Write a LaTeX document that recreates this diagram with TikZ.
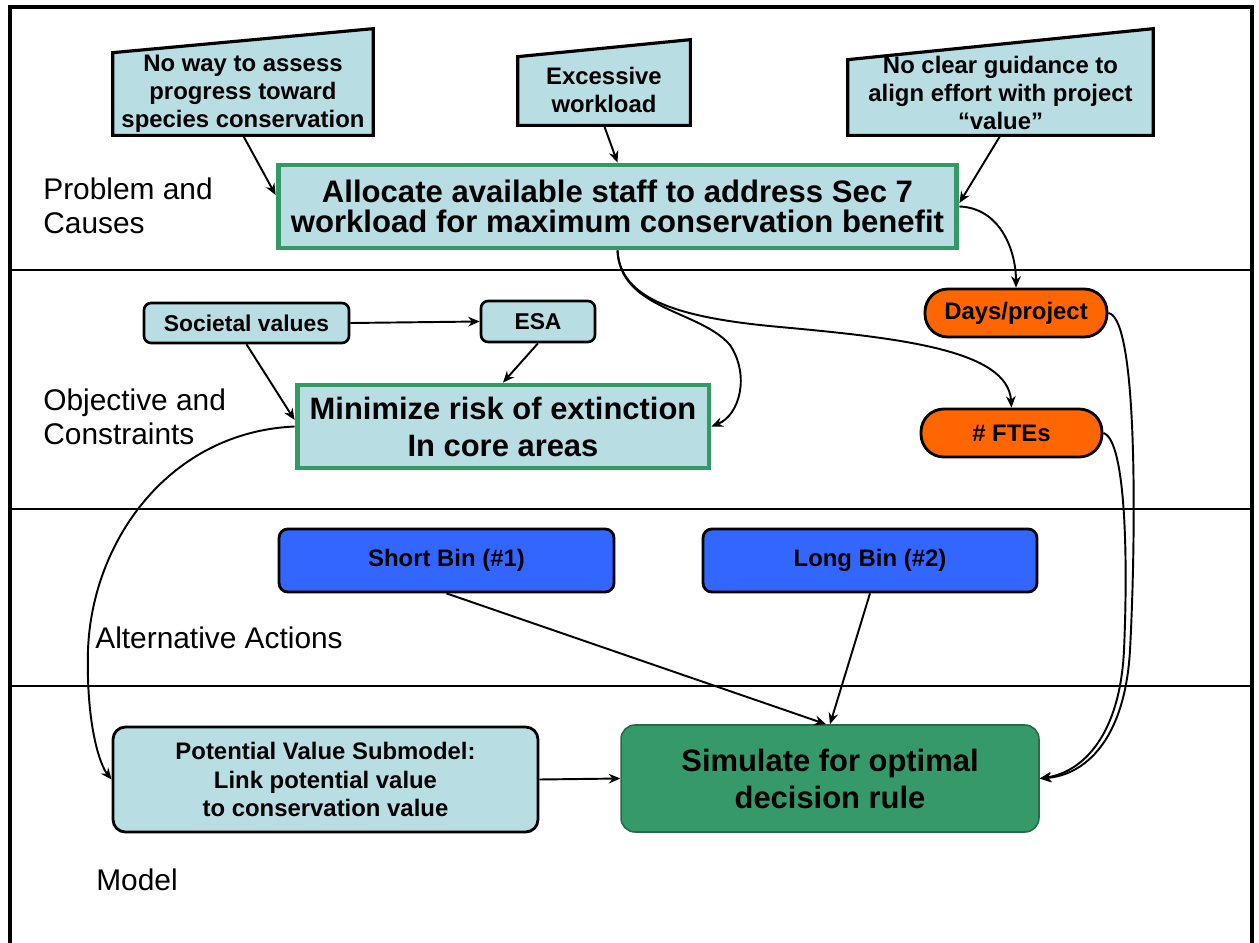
\documentclass[tikz,border=0pt]{standalone}
\usepackage{fontspec}
\setmainfont{Liberation Sans}
\usetikzlibrary{arrows.meta,backgrounds}
\definecolor{lb}{HTML}{B8DDE3}
\definecolor{gb}{HTML}{339966}
\definecolor{org}{HTML}{FF6600}
\definecolor{blu}{HTML}{3366FF}
\definecolor{simc}{HTML}{35996A}
\begin{document}
\begin{tikzpicture}[x=0.02cm,y=-0.02cm,
  arr/.style={draw, line width=1.1pt, -{Stealth[length=6.5pt,width=5.5pt]}},
  traptext/.style={inner sep=0pt, align=center, font=\fontsize{13.6}{15.9}\selectfont\bfseries},
  trapshape/.style={draw, fill=lb, line width=1.8pt, line join=miter},
  gbox/.style={draw=gb, fill=lb, line width=2.8pt, align=center, inner sep=0pt},
  rbox/.style={draw, fill=lb, rounded corners=4pt, line width=1.5pt, inner sep=0pt, align=center, font=\fontsize{13}{15.5}\selectfont\bfseries},
  pill/.style={draw, fill=org, rounded corners=13pt, line width=1.6pt, inner sep=0pt, font=\fontsize{13.6}{16}\selectfont\bfseries},
  binbox/.style={draw, fill=blu, rounded corners=5pt, line width=1.6pt, inner sep=0pt, font=\fontsize{13.6}{16}\selectfont\bfseries},
  seclabel/.style={anchor=west, inner sep=0pt, align=left, font=\fontsize{17}{19.3}\selectfont},
  divider/.style={line width=0.85pt}]
\useasboundingbox (0,0) rectangle (1259,943);

% frame and dividers
\draw[line width=2.8pt] (10,943) -- (10,7) -- (1252,7) -- (1252,943);
\draw[divider] (10,270) -- (1252,270);
\draw[divider] (10,509) -- (1252,509);
\draw[divider] (10,686) -- (1252,686);

% section labels
\node[seclabel] (l1) at (43,206) {Problem and\\Causes};
\node[seclabel] (l2) at (43,417) {Objective and\\Constraints};
\node[seclabel] (l3) at (95,638) {Alternative Actions};
\node[seclabel] (l4) at (96,880) {Model};

% causes (manual input shapes)
\node[traptext, minimum width=5.2cm, minimum height=1.66cm] (c1) at (243,93.5) {No way to assess\\progress toward\\species conservation};
\node[traptext, minimum width=3.44cm, minimum height=1.4cm] (c2) at (604,90) {Excessive\\workload};
\node[traptext, minimum width=6.1cm, minimum height=1.68cm] (c3) at (1000.5,93) {No clear guidance to\\align effort with project\\“value”};
\begin{scope}[on background layer]
\draw[trapshape] (c1.south west) -- (c1.south east) -- ([yshift=0.46cm]c1.north east) -- ([yshift=-0.02cm]c1.north west) -- cycle;
\draw[trapshape] (c2.south west) -- (c2.south east) -- ([yshift=0.30cm]c2.north east) -- ([yshift=-0.04cm]c2.north west) -- cycle;
\draw[trapshape] (c3.south west) -- (c3.south east) -- ([yshift=0.44cm]c3.north east) -- ([yshift=-0.18cm]c3.north west) -- cycle;
\end{scope}

% problem
\node[gbox, minimum width=13.58cm, minimum height=1.66cm, font=\fontsize{17.7}{19}\selectfont\bfseries] (alloc) at (617.5,206.5) {\raisebox{-3pt}{\shortstack{Allocate available staff to address Sec 7\\[1pt]workload for maximum conservation benefit}}};

% objective and constraints
\node[rbox, minimum width=4.1cm, minimum height=0.8cm] (soc) at (246.5,323) {Societal values};
\node[rbox, minimum width=2.28cm, minimum height=0.82cm] (esa) at (538,321.5) {ESA};
\node[gbox, minimum width=8.24cm, minimum height=1.66cm, font=\fontsize{17.6}{21}\selectfont\bfseries] (mini) at (503,426.5) {Minimize risk of extinction\\In core areas};
\node[pill, minimum width=3.64cm, minimum height=0.96cm] (days) at (1016,313) {Days/project};
\node[pill, minimum width=3.62cm, minimum height=0.96cm] (fte) at (1011.5,433) {\# FTEs};

% alternative actions
\node[binbox, minimum width=6.7cm, minimum height=1.26cm] (short) at (446.5,560.5) {Short Bin (\#1)};
\node[binbox, minimum width=6.68cm, minimum height=1.26cm] (long) at (870,560.5) {Long Bin (\#2)};

% model
\node[draw, fill=lb, rounded corners=7pt, line width=1.6pt, inner sep=0pt, align=center, minimum width=8.5cm, minimum height=2.1cm, font=\fontsize{13.6}{16.4}\selectfont\bfseries] (pot) at (325.5,779.5) {Potential Value Submodel:\\Link potential value\\to conservation value};
\node[draw=simc!70!black, fill=simc, rounded corners=8pt, line width=0.9pt, inner sep=0pt, align=center, minimum width=8.36cm, minimum height=2.14cm, font=\fontsize{17.6}{21}\selectfont\bfseries] (simu) at (830,778.5) {Simulate for optimal\\decision rule};

% connectors
\draw[arr] (c1.south) -- ([yshift=0.23cm]alloc.west);
\draw[arr] (c2.south) -- (alloc.north);
\draw[arr] (c3.south) -- ([yshift=0.07cm]alloc.east);
\draw[arr] (alloc.east) .. controls (1000,208) and (1016,250) .. (days.north);
\draw[arr] (alloc.south) .. controls (620,300) and (680,318) .. (780,327) .. controls (900,338) and (1008,350) .. (fte.north);
\draw[arr] (alloc.south) .. controls (620,310) and (700,310) .. (730,345) .. controls (750,375) and (740,415) .. (mini.east);
\draw[arr] (soc.east) -- (esa.west);
\draw[arr] (soc.south) -- ([yshift=0.13cm]mini.west);
\draw[arr] (esa.south) -- (mini.north);
\draw[arr] (mini.west) .. controls (170,432) and (92,540) .. (88,650) .. controls (86,725) and (100,765) .. (pot.west);
\draw[arr] (short.south) -- ([xshift=-0.08cm]simu.north);
\draw[arr] (long.south) -- (simu.north);
\draw[arr] (pot.east) -- (simu.west);
\draw[arr] (days.east) .. controls (1140,318) and (1135,560) .. (1130,650) .. controls (1125,740) and (1085,775) .. (simu.east);
\draw[arr] (fte.east) .. controls (1126,440) and (1128,560) .. (1124,650) .. controls (1120,735) and (1083,772) .. (simu.east);
\end{tikzpicture}
\end{document}
